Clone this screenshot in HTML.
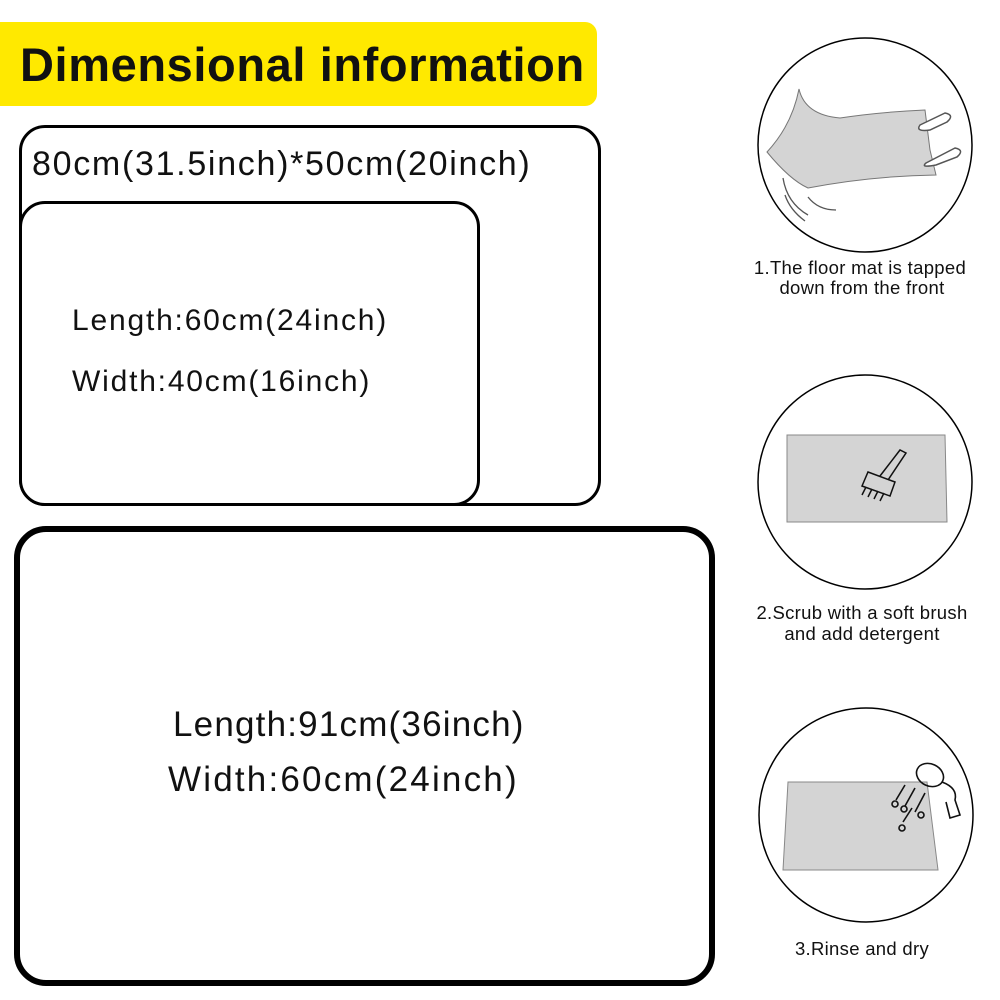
<!DOCTYPE html>
<html><head><style>
body{margin:0;width:1000px;height:1000px;background:#fff;position:relative;overflow:hidden;font-family:"Liberation Sans",sans-serif;color:#111}
.a{position:absolute;white-space:nowrap}
.box{position:absolute;box-sizing:border-box;border:3px solid #000;background:#fff}
</style></head><body>
<div class="a" style="left:0;top:22px;width:597px;height:84px;background:#ffe900;border-radius:0 12px 12px 0"></div>
<div class="a" style="left:20px;top:38px;font-size:47px;font-weight:bold;line-height:54px;letter-spacing:0.6px">Dimensional information</div>
<div class="box" style="left:19px;top:125px;width:582px;height:381px;border-radius:26px"></div>
<div class="a" style="left:32px;top:144px;font-size:34px;line-height:40px;letter-spacing:1.7px">80cm(31.5inch)*50cm(20inch)</div>
<div class="box" style="left:19px;top:201px;width:461px;height:305px;border-radius:26px"></div>
<div class="a" style="left:72px;top:304px;font-size:30px;line-height:34px;letter-spacing:1.8px">Length:60cm(24inch)</div>
<div class="a" style="left:72px;top:365px;font-size:30px;line-height:34px;letter-spacing:1.8px">Width:40cm(16inch)</div>
<div class="box" style="left:14px;top:526px;width:701px;height:460px;border:6px solid #000;border-radius:32px"></div>
<div class="a" style="left:173px;top:705px;font-size:35px;line-height:40px;letter-spacing:1.2px">Length:91cm(36inch)</div>
<div class="a" style="left:168px;top:760px;font-size:35px;line-height:40px;letter-spacing:2.2px">Width:60cm(24inch)</div>
<svg class="a" style="left:0;top:0" width="1000" height="1000">
<g fill="none" stroke="#000" stroke-width="1.5">
<circle cx="865" cy="145" r="107"/>
<circle cx="865" cy="482" r="107"/>
<circle cx="866" cy="815" r="107"/>
</g>
<path d="M799,89 Q805,115 840,118 Q880,112 925,110 L930,150 L936,175 Q870,176 808,188 Q790,180 767,152 Q792,125 799,89Z" fill="#d4d4d4" stroke="#777"/>
<path d="M920,125 L945,113 Q955,115 947,122 L930,130 Q915,132 920,125Z M926,163 L955,148 Q965,150 957,157 L936,165 Q920,168 926,163Z" fill="#fff" stroke="#555" stroke-width="1.5"/>
<g fill="none" stroke="#555" stroke-width="1.3"><path d="M783,178 Q787,203 808,215"/><path d="M785,195 Q790,210 805,221"/><path d="M808,197 Q818,210 836,210"/></g>
<path d="M787,435 L945,435 L947,522 L787,522Z" fill="#d4d4d4" stroke="#888"/>
<g fill="none" stroke="#111" stroke-width="1.5"><path d="M868,472 L895,482 L890,496 L862,486Z"/><path d="M880,476 L900,450 L906,453 L888,480"/><path d="M866,487 L862,495 M872,489 L868,497 M878,491 L874,499 M884,493 L880,501"/></g>
<path d="M788,782 L927,782 L938,870 L783,870Z" fill="#d4d4d4" stroke="#888"/>
<g fill="none" stroke="#111" stroke-width="1.6"><ellipse cx="930" cy="775" rx="14" ry="11" transform="rotate(25 930 775)"/><path d="M942,782 Q958,788 955,800 L960,815 L950,818 L946,802"/><path d="M905,785 L896,800 M915,788 L905,806 M925,793 L915,812 M912,808 L903,822"/><circle cx="895" cy="804" r="3"/><circle cx="904" cy="809" r="3"/><circle cx="921" cy="815" r="3"/><circle cx="902" cy="828" r="3"/></g>
<g font-family="Liberation Sans,sans-serif" font-size="18.5" fill="#111" text-anchor="middle" letter-spacing="0.3">
<text x="860" y="274">1.The floor mat is tapped</text>
<text x="862" y="294">down from the front</text>
<text x="862" y="619">2.Scrub with a soft brush</text>
<text x="862" y="640">and add detergent</text>
<text x="862" y="955">3.Rinse and dry</text>
</g>
</svg>
</body></html>
